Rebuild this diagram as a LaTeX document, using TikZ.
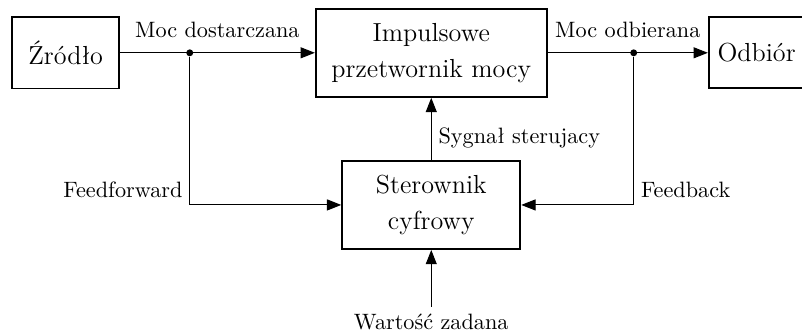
\documentclass[tikz,border=0pt]{standalone}
\usepackage{fontspec}
\usepackage{tikz}
\usetikzlibrary{positioning,arrows.meta}

\begin{document}
\begin{tikzpicture}[
    node distance=1cm and 1.5cm,
    every node/.style={font=\small},
    blok/.style={draw, line width=0.9pt, align=center, inner sep=2pt,
      font=\fontsize{12.8}{17.5}\selectfont},
    lbl/.style={font=\fontsize{10.9}{13}\selectfont},
    dot/.style={circle, fill, inner sep=0pt, minimum size=3.4pt},
    arr/.style={-{Triangle[length=7pt,width=5.4pt]}, line width=0.5pt}
  ]
    \useasboundingbox (0,0) rectangle (13.82,5.74);

    % Power path blocks
    \node[blok, minimum width=1.84cm, minimum height=1.23cm] (zrodlo) at (1.13,4.83) {Źródło};
    \node[blok, minimum width=3.98cm, minimum height=1.52cm, right=3.36cm of zrodlo] (przetw) {Impulsowe\\przetwornik mocy};
    \node[blok, minimum width=1.65cm, minimum height=1.22cm, right=2.76cm of przetw] (odbior) {Odbiór};

    % Controller below the converter
    \node[blok, minimum width=3.07cm, minimum height=1.52cm, below=1.07cm of przetw] (sterownik) {Sterownik\\cyfrowy};

    % Set point under the controller
    \node[lbl, below=0.98cm of sterownik] (wart) {Wartość zadana};

    % Measurement branch points
    \node[dot] (d1) at (3.27,4.83) {};
    \node[dot] (d2) at (10.92,4.83) {};

    % Power flow
    \draw[arr] (zrodlo) -- node[lbl, above=4pt] {Moc dostarczana} (przetw);
    \draw[arr] (przetw) -- node[lbl, above=4pt] {Moc odbierana} (odbior);

    % Control signals
    \draw[arr] (sterownik) -- node[lbl, right, pos=0.35] {Sygnał sterujacy} (przetw);
    \draw[arr] (wart) -- (sterownik);
    \draw[arr] (d1) |- node[lbl, above left] {Feedforward} (sterownik);
    \draw[arr] (d2) |- node[lbl, above right] {Feedback} (sterownik);

  \end{tikzpicture}
\end{document}
